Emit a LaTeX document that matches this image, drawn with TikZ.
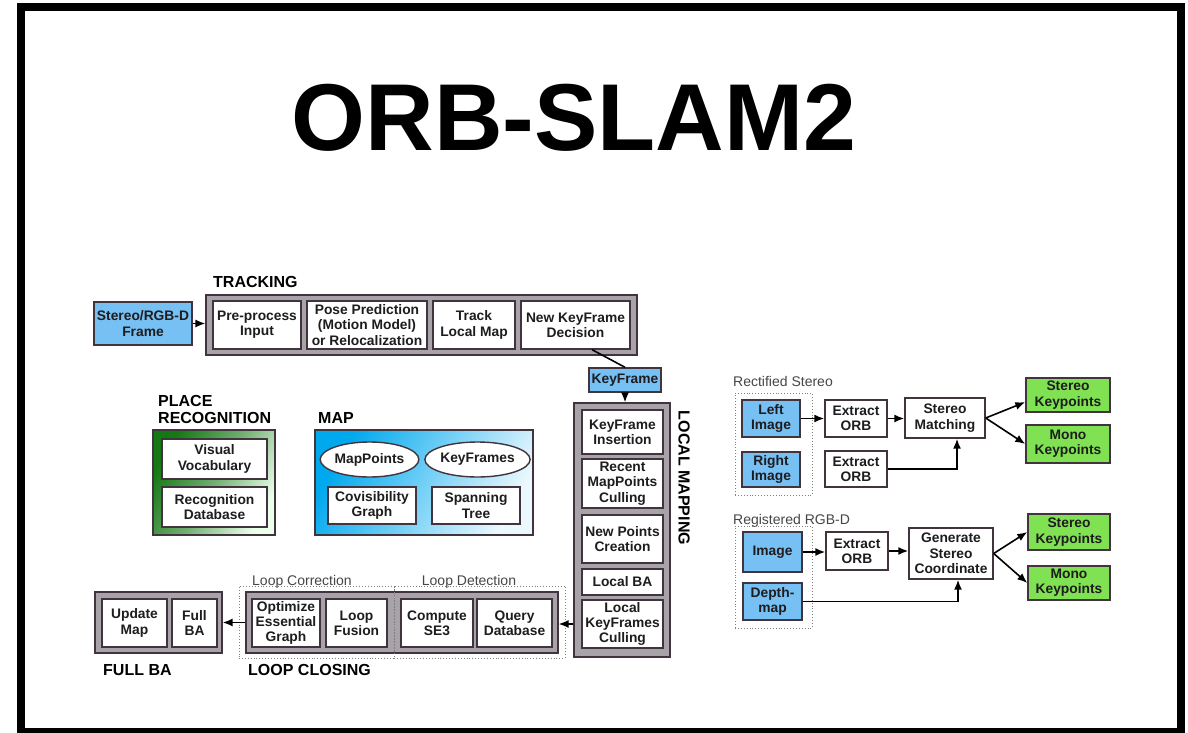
\documentclass[tikz,border=0pt]{standalone}
\usepackage{fontspec}
\setmainfont{Liberation Sans}
\usetikzlibrary{arrows.meta,calc,shapes.geometric}
\definecolor{bdr}{RGB}{65,52,62}
\definecolor{grayfill}{RGB}{168,163,168}
\definecolor{bluefill}{RGB}{118,192,244}
\definecolor{greenfill}{RGB}{128,226,82}
\definecolor{txt}{RGB}{30,28,30}
\definecolor{lbl}{RGB}{70,70,70}
\definecolor{darkgreen}{RGB}{20,120,20}
\definecolor{mapblue}{RGB}{0,168,238}
\begin{document}
\begin{tikzpicture}[x=1pt,y=-1pt,
 bx/.style={draw=bdr, line width=1.4pt, inner sep=0pt, align=center, text=txt, font=\fontsize{13.8}{15.3}\selectfont\bfseries},
 wbox/.style={bx, fill=white},
 bbox/.style={bx, fill=bluefill},
 gbox/.style={bx, fill=greenfill},
 ebox/.style={bx, fill=white, ellipse},
 cont/.style={draw=bdr, line width=1.2pt, fill=grayfill, inner sep=0pt},
 dotbox/.style={draw=gray, dotted, line width=0.9pt, inner sep=0pt},
 head/.style={anchor=base west, inner sep=0pt, text=black, font=\fontsize{16}{16}\selectfont\bfseries},
 sub/.style={anchor=base west, inner sep=0pt, text=lbl, font=\fontsize{14}{14}\selectfont},
 arr/.style={line width=1.6pt, -{Latex[length=10pt,width=8pt]}},
 conn/.style={line width=1.6pt}
]
\useasboundingbox (0,0) rectangle (1188,733);
\fill[white] (0,0) rectangle (1188,733);
\draw[line width=8pt] (21,7) rectangle (1181,732);

\node[anchor=base, inner sep=0pt, font=\fontsize{95}{95}\selectfont\bfseries] (title) at (574,150) {ORB-SLAM2};

% TRACKING
\node[head] (trkl) at (213,287) {TRACKING};
\node[cont, minimum width=431, minimum height=60] (trk) at (421.5,325) {};
\node[wbox, minimum width=88, minimum height=48] (pre) at (257,325) {Pre-process\\Input};
\node[wbox, minimum width=120, minimum height=48] (pose) at (367,325) {Pose Prediction\\(Motion Model)\\or Relocalization};
\node[wbox, minimum width=82, minimum height=48] (tlm) at (474,325) {Track\\Local Map};
\node[wbox, minimum width=109, minimum height=48] (nkd) at (575.5,325) {New KeyFrame\\Decision};
\node[bbox, minimum width=98, minimum height=43] (frame) at (143,323.5) {Stereo/RGB-D\\Frame};
\draw[arr] (frame.east) -- (trk.west |- frame.east);

% KEYFRAME
\node[bbox, minimum width=72, minimum height=24] (kf) at (625,380) {KeyFrame};
\draw[conn] ($(nkd.south west)!0.65!(nkd.south east)$) -- (kf.north);

% LOCAL MAPPING
\node[cont, minimum width=96, minimum height=254] (lm) at (622,530) {};
\node[wbox, minimum width=81, minimum height=44] (kfi) at (622.5,432) {KeyFrame\\Insertion};
\node[wbox, minimum width=81, minimum height=49] (rmc) at (622.5,483.5) {Recent\\MapPoints\\Culling};
\node[wbox, minimum width=81, minimum height=48] (npc) at (622.5,539) {New Points\\Creation};
\node[wbox, minimum width=81, minimum height=26] (lba) at (622.5,582) {Local BA};
\node[wbox, minimum width=81, minimum height=48] (lkc) at (622.5,624) {Local\\KeyFrames\\Culling};
\node[rotate=-90, inner sep=0pt, font=\fontsize{16}{16}\selectfont\bfseries] (lml) at (684,478) {LOCAL MAPPING};
\draw[arr] (kf.south) -- (kf.south |- lm.north);

% PLACE RECOGNITION
\node[head] (prl1) at (158,406) {PLACE};
\node[head] (prl2) at (158,423) {RECOGNITION};
\node[draw=bdr, line width=1.2pt, inner sep=0pt, minimum width=122, minimum height=105, top color=darkgreen, bottom color=green!8!white, middle color=darkgreen!60!white, shading angle=60] (pr) at (214,482.5) {};
\node[wbox, minimum width=105, minimum height=40] (vv) at (214.5,459) {Visual\\Vocabulary};
\node[wbox, minimum width=105, minimum height=40] (rd) at (214.5,507) {Recognition\\Database};

% MAP
\node[head] (mapl) at (318,423) {MAP};
\node[draw=bdr, line width=1.2pt, inner sep=0pt, minimum width=218, minimum height=105, top color=mapblue, bottom color=mapblue!8!white, middle color=mapblue!55!white, shading angle=60] (map) at (424,482.5) {};
\node[ebox, minimum width=95, minimum height=35] (mp) at (369.5,459.5) {MapPoints};
\node[ebox, minimum width=95, minimum height=35] (kfs) at (477.5,459.5) {KeyFrames};
\node[wbox, minimum width=88, minimum height=37] (cg) at (372,505.5) {Covisibility\\Graph};
\node[wbox, minimum width=88, minimum height=37] (st) at (476,505.5) {Spanning\\Tree};

% LOOP CLOSING
\node[cont, minimum width=127, minimum height=61] (fba) at (158.5,622.5) {};
\node[wbox, minimum width=65, minimum height=48] (um) at (134.5,623) {Update\\Map};
\node[wbox, minimum width=45, minimum height=48] (fb) at (194.5,623) {Full\\BA};
\node[cont, minimum width=312, minimum height=61] (lcg) at (402,622.5) {};
\node[dotbox, minimum width=155, minimum height=72] (lcor) at (316.5,622) {};
\node[dotbox, minimum width=171, minimum height=72] (ldet) at (479.5,622) {};
\node[wbox, minimum width=68, minimum height=48] (oeg) at (286,623) {Optimize\\Essential\\Graph};
\node[wbox, minimum width=61, minimum height=48] (lf) at (356.5,623) {Loop\\Fusion};
\node[wbox, minimum width=72, minimum height=48] (cse) at (437,623) {Compute\\SE3};
\node[wbox, minimum width=75, minimum height=48] (qd) at (514.5,623) {Query\\Database};
\node[sub, anchor=base] (lcorl) at (302,585) {Loop Correction};
\node[sub, anchor=base] (ldetl) at (469,585) {Loop Detection};
\node[head] (fbal) at (103,675) {FULL BA};
\node[head] (lcl) at (248,675) {LOOP CLOSING};
\draw[arr] (lm.west |- lkc.west) -- (lcg.east |- lkc.west);
\draw[arr] (lcg.west) -- (fba.east |- lcg.west);

% RECTIFIED STEREO
\node[sub] (rsl) at (733,386) {Rectified Stereo};
\node[dotbox, minimum width=77, minimum height=102] (rs) at (773.5,444) {};
\node[bbox, minimum width=58, minimum height=37] (li) at (771,418.5) {Left\\Image};
\node[bbox, minimum width=58, minimum height=35] (ri) at (771,469.5) {Right\\Image};
\node[wbox, minimum width=62, minimum height=37] (eo1) at (856,418.5) {Extract\\ORB};
\node[wbox, minimum width=62, minimum height=36] (eo2) at (856,469) {Extract\\ORB};
\node[wbox, minimum width=80, minimum height=40] (sm) at (945,418) {Stereo\\Matching};
\node[gbox, minimum width=84, minimum height=34] (sk1) at (1068,395) {Stereo\\Keypoints};
\node[gbox, minimum width=84, minimum height=38] (mk1) at (1068,444) {Mono\\Keypoints};
\draw[arr] (li.east) -- (eo1.west);
\draw[arr] (eo1.east) -- (sm.west |- eo1.east);
\draw[arr] (eo2.east) -| ($(sm.south)+(12,0)$);
\draw[arr] (sm.east) -- ($(sk1.west)!0.4!(sk1.south west)$);
\draw[arr] (sm.east) -- (mk1.west);

% REGISTERED RGB-D
\node[sub] (rgl) at (733,524) {Registered RGB-D};
\node[dotbox, minimum width=77, minimum height=102] (rg) at (773.5,577) {};
\node[bbox, minimum width=59, minimum height=40] (im) at (772.5,552) {Image};
\node[bbox, minimum width=59, minimum height=37] (dm) at (772.5,601.5) {Depth-\\map};
\node[wbox, minimum width=62, minimum height=38] (eo3) at (857,551) {Extract\\ORB};
\node[wbox, minimum width=84, minimum height=51] (gsc) at (951,553.5) {Generate\\Stereo\\Coordinate};
\node[gbox, minimum width=82, minimum height=36] (sk2) at (1069,532) {Stereo\\Keypoints};
\node[gbox, minimum width=82, minimum height=34] (mk2) at (1069,583) {Mono\\Keypoints};
\draw[arr] (im.east) -- (eo3.west |- im.east);
\draw[arr] (eo3.east) -- (gsc.west |- eo3.east);
\draw[arr] (dm.east) -| ($(gsc.south)+(7,0)$);
\draw[arr] (gsc.east) -- (sk2.west);
\draw[arr] (gsc.east) -- (mk2.west);
\end{tikzpicture}
\end{document}
